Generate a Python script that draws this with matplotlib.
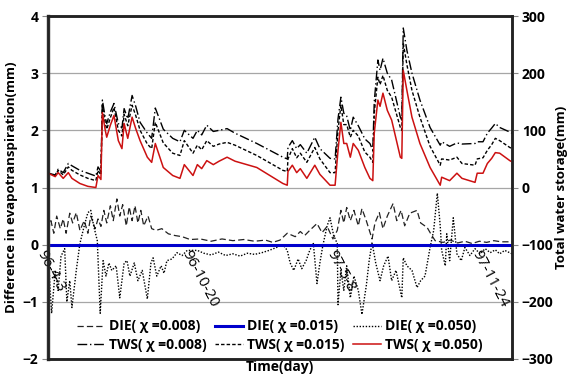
import numpy as np
import matplotlib.pyplot as plt
from matplotlib.lines import Line2D

plt.rcParams['font.family'] = ['Open Sans', 'DejaVu Sans']

# total water storage (mm)
tws_day = [0, 10, 14, 21, 28, 33, 44, 55, 66, 69, 73, 75, 79, 81, 86, 91, 97, 102, 105, 110,
           116, 121, 127, 137, 143, 148, 159, 172, 182, 188, 200, 206, 212, 219, 228, 236, 247,
           258, 288, 324, 330, 331, 337, 343, 348, 357, 368, 375, 389, 396, 400, 404, 408, 412,
           417, 421, 428, 437, 444, 448, 450, 455, 458, 462, 468, 474, 486, 488, 490, 495, 502,
           513, 527, 541, 543, 554, 564, 571, 589, 592, 600, 606, 612, 617, 623, 637, 640]
tws_050 = [25, 19, 26, 16, 26, 16, 7, 2, 0, 21, 14, 131, 100, 88, 109, 126, 82, 68, 112, 86,
           123, 103, 82, 53, 44, 77, 35, 21, 16, 40, 21, 40, 33, 47, 40, 46, 53,
           46, 35, 7, 4, 28, 39, 26, 33, 16, 39, 23, 4, 4, 65, 114, 77, 77,
           53, 77, 65, 35, 16, 12, 95, 153, 142, 165, 135, 118, 53, 51, 205, 170, 123,
           77, 35, 4, 18, 12, 25, 16, 9, 25, 25, 42, 51, 61, 60, 47, 45]
tws_015 = [25, 21, 30, 22, 36, 30, 22, 16, 12, 30, 22, 144, 112, 102, 122, 140, 100, 90, 128, 108,
           144, 126, 100, 76, 68, 114, 78, 60, 56, 82, 60, 74, 66, 82, 72, 76, 79,
           74, 56, 30, 28, 50, 68, 52, 60, 44, 70, 50, 26, 26, 100, 144, 110, 110,
           88, 100, 90, 62, 53, 44, 130, 193, 180, 196, 170, 158, 105, 100, 253, 215, 170,
           123, 72, 39, 50, 48, 53, 42, 39, 50, 52, 65, 75, 86, 82, 70, 68]
tws_008 = [25, 22, 32, 26, 42, 38, 30, 25, 20, 36, 28, 153, 122, 112, 132, 147, 112, 104, 138, 120,
           161, 142, 114, 95, 86, 139, 102, 86, 80, 100, 86, 100, 92, 109, 98, 100, 103,
           95, 77, 53, 50, 70, 82, 68, 75, 60, 88, 68, 51, 50, 120, 158, 130, 125,
           100, 123, 108, 85, 77, 65, 150, 223, 205, 226, 200, 188, 123, 118, 279, 240, 200,
           153, 105, 74, 80, 72, 78, 76, 77, 80, 80, 95, 104, 112, 105, 97, 95]

# difference in evapotranspiration (mm), left axis
die008_day = [0, 4, 8, 12, 17, 21, 25, 30, 34, 39, 44, 50, 55, 59, 65, 69, 73, 77, 81, 86, 90,
              95, 99, 103, 108, 112, 116, 120, 124, 128, 132, 138, 143, 149, 157, 166, 175, 185,
              196, 210, 225, 240, 255, 270, 285, 300, 310, 320, 330, 341, 348, 354, 361, 371,
              378, 385, 393, 399, 404, 408, 412, 417, 422, 428, 433, 439, 447, 451, 457, 462,
              468, 476, 481, 487, 492, 499, 509, 514, 523, 528, 534, 545, 555, 565, 575, 585,
              595, 605, 615, 625, 640]
die008 = [0.25, 0.42, 0.2, 0.5, 0.28, 0.45, 0.2, 0.55, 0.38, 0.56, 0.25, 0.42, 0.2, 0.5, 0.28,
          0.45, 0.32, 0.6, 0.38, 0.68, 0.42, 0.8, 0.5, 0.7, 0.33, 0.66, 0.42, 0.68, 0.38, 0.6,
          0.33, 0.5, 0.28, 0.25, 0.28, 0.19, 0.16, 0.14, 0.09, 0.1, 0.06, 0.1, 0.07, 0.09, 0.06,
          0.08, 0.04, 0.08, 0.2, 0.14, 0.23, 0.16, 0.25, 0.37, 0.21, 0.32, 0.1, 0.25, 0.6, 0.38,
          0.65, 0.42, 0.6, 0.33, 0.63, 0.42, 0.1, 0.38, 0.56, 0.28, 0.5, 0.72, 0.42, 0.6, 0.33,
          0.55, 0.6, 0.38, 0.3, 0.19, 0.07, 0.04, 0.08, 0.03, 0.06, 0.02, 0.06, 0.04, 0.07,
          0.05, 0.05]
die050_day = [0, 3, 5, 10, 14, 18, 23, 26, 30, 33, 39, 44, 50, 55, 59, 63, 68, 72, 76, 80, 84,
              88, 94, 99, 105, 109, 113, 119, 124, 130, 137, 142, 145, 150, 156, 160, 164, 171,
              178, 185, 192, 206, 215, 225, 235, 245, 255, 265, 275, 285, 295, 305, 315, 324,
              330, 334, 339, 345, 350, 356, 361, 366, 371, 375, 379, 385, 389, 394, 399, 400,
              404, 408, 412, 417, 422, 428, 433, 439, 443, 447, 452, 458, 463, 469, 474, 480,
              488, 490, 495, 502, 509, 514, 520, 527, 532, 537, 541, 543, 548, 550, 554, 559,
              564, 570, 575, 582, 589, 596, 603, 610, 617, 623, 630, 640]
die050 = [0.0, -0.8, -1.2, -0.45, -0.8, -0.2, -0.07, -1.0, -0.63, -1.1, -0.45, 0.02, 0.33, 0.56,
          0.6, 0.33, 0.07, -1.2, -0.28, -0.55, -0.32, -0.45, -0.37, -0.93, -0.32, -0.28, -0.55,
          -0.32, -0.63, -0.45, -0.95, -0.32, -0.23, -0.55, -0.37, -0.5, -0.28, -0.25, -0.14,
          -0.19, -0.1, -0.1, -0.15, -0.18, -0.13, -0.19, -0.16, -0.2, -0.15, -0.17, -0.14, -0.1,
          -0.05, 0.0, -0.1, -0.32, -0.45, -0.25, -0.42, -0.28, -0.1, 0.02, -0.68, -0.32, -0.02,
          0.33, 0.47, 0.16, 0.02, -1.05, -0.45, -0.8, -0.37, -0.93, -0.55, -0.8, -1.22, -0.72,
          -0.28, 0.04, -0.32, -0.63, -0.37, -0.2, -0.63, -0.45, -0.93, -0.23, -0.37, -0.45,
          -0.75, -0.63, -0.55, -0.05, 0.25, 0.9, 0.33, -0.1, -0.37, 0.19, -0.28, 0.47, -0.16,
          -0.28, -0.05, -0.19, -0.07, -0.16, -0.07, -0.14, -0.09, -0.16, -0.1, -0.16]
die015_day = [0, 640]
die015 = [0.0, 0.0]

date_days = [0, 200, 400, 600]
date_labels = ["96-4-3", "96-10-20", "97-5-8", "97-11-24"]

fig = plt.figure(figsize=(5.7, 3.77), dpi=100)
ax = fig.add_axes([48/570, 18/377, 464/570, 343/377])
ax2 = ax.twinx()

l_d08, = ax.plot(die008_day, die008, color="#222222", lw=0.9, ls=(0, (5, 2.5)))
l_d50, = ax.plot(die050_day, die050, color="black", lw=1.0, ls=(0, (1, 1.2)))
l_d15, = ax.plot(die015_day, die015, color="#0000CC", lw=2.2)

l_t08, = ax2.plot(tws_day, tws_008, color="black", lw=1.0, ls=(0, (7, 2, 1, 2)))
l_t15, = ax2.plot(tws_day, tws_015, color="black", lw=1.0, ls=(0, (2.5, 1.5)))
l_t50, = ax2.plot(tws_day, tws_050, color="#CC1111", lw=1.1)

ax.set_xlim(0, 640)
ax.set_ylim(-2, 4)
ax2.set_ylim(-300, 300)
ax.set_yticks(range(-2, 5))
ax2.set_yticks(range(-300, 301, 100))
ax.set_xticks([])
ax.yaxis.grid(True, color="#A6A6A6", lw=0.9)
ax.set_axisbelow(True)

for a in (ax, ax2):
    for s in a.spines.values():
        s.set_linewidth(1.8)
        s.set_color("#222222")
    a.tick_params(axis="y", length=4, width=0.8, color="#888888", labelsize=10, pad=3)
    for lab in a.get_yticklabels():
        lab.set_fontweight("bold")
ax.spines["left"].set_color("#555555")
ax.spines["left"].set_linewidth(2.5)

for d, lab in zip(date_days, date_labels):
    ax.text(d - 2, -0.05, lab, rotation=-62, rotation_mode="anchor", ha="left", va="top",
            fontsize=11, color="black")

ax.set_ylabel("Difference in evapotranspiration(mm)", fontsize=9.5, fontweight="bold", labelpad=3)
ax2.set_ylabel("Total water storage(mm)", fontsize=9.5, fontweight="bold", labelpad=1)
ax.set_xlabel("Time(day)", fontsize=10, fontweight="bold", labelpad=1)

handles = [l_d08, l_t08, l_d15, l_t15, l_d50, l_t50]
labels = ["DIE( χ =0.008)", "TWS( χ =0.008)", "DIE( χ =0.015)", "TWS( χ =0.015)",
          "DIE( χ =0.050)", "TWS( χ =0.050)"]
ax2.legend(handles, labels, ncol=3, loc="lower center", bbox_to_anchor=(0.5, -0.015),
           frameon=False, prop={"weight": "bold", "size": 10}, handlelength=2.0,
           handletextpad=0.3, columnspacing=0.6, labelspacing=0.3)

fig.savefig("out.png", dpi=100)
